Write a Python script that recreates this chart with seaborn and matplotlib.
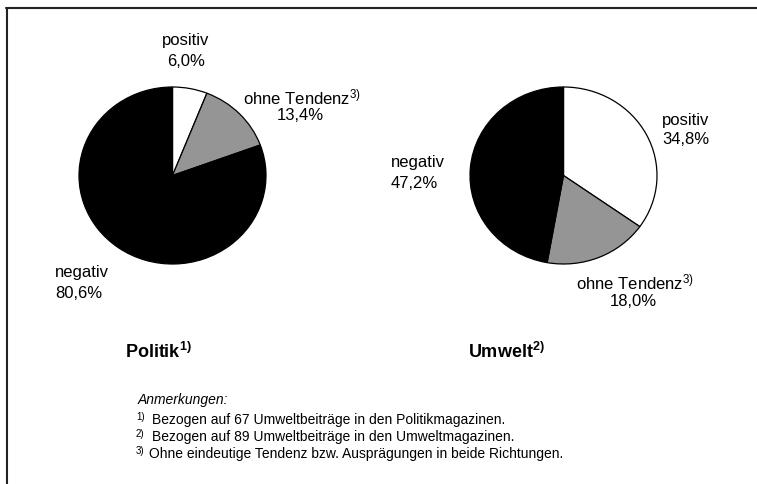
import matplotlib
matplotlib.use("Agg")
import matplotlib.pyplot as plt
from matplotlib.lines import Line2D
import seaborn as sns

sns.set_theme(style="white")
plt.rcParams['font.family'] = ['Liberation Sans', 'DejaVu Sans']
plt.rcParams['text.color'] = 'black'
plt.rcParams['mathtext.fontset'] = 'custom'
plt.rcParams['mathtext.rm'] = 'Liberation Sans'
plt.rcParams['mathtext.it'] = 'Liberation Sans:italic'
plt.rcParams['mathtext.bf'] = 'Liberation Sans:bold'

# ---- data ----
categories = ["positiv", "ohne Tendenz", "negativ"]
politik = [6.0, 13.4, 80.6]
umwelt = [34.8, 18.0, 47.2]
titles = ["Politik", "Umwelt"]
notes = [
    "Bezogen auf 67 Umweltbeiträge in den Politikmagazinen.",
    "Bezogen auf 89 Umweltbeiträge in den Umweltmagazinen.",
    "Ohne eindeutige Tendenz bzw. Ausprägungen in beide Richtungen.",
]
colors = ["#ffffff", "#959595", "#000000"]

W, H = 757, 485
fig = plt.figure(figsize=(W / 100, H / 100), dpi=100)
fig.patch.set_facecolor("white")


def fx(x):
    return x / W


def fy(y):
    return 1 - y / H


def pie_axes(cx, cy, rx, ry):
    ax = fig.add_axes([fx(cx - rx), fy(cy + ry), 2 * rx / W, 2 * ry / H])
    ax.axis("off")
    return ax


def fmt(v):
    return f"{v:.1f}".replace(".", ",") + "%"


for vals, cx in [(politik, 172.5), (umwelt, 563.5)]:
    ax = pie_axes(cx, 176.5, 93.5, 88.5)
    ax.pie(vals, colors=colors, startangle=90, counterclock=False,
           radius=1, frame=False,
           wedgeprops=dict(edgecolor="black", linewidth=0.9))
    ax.set_xlim(-1, 1)
    ax.set_ylim(-1, 1)
    ax.set_aspect("auto")

fs = 12
T = fig.text
# Politik labels
T(fx(186), fy(40), categories[0], ha="center", va="center", fontsize=fs)
T(fx(186), fy(61), fmt(politik[0]), ha="center", va="center", fontsize=fs)
T(fx(302), fy(97), categories[1] + r"$^{3)}$", ha="center", va="center", fontsize=fs)
T(fx(300), fy(115), fmt(politik[1]), ha="center", va="center", fontsize=fs)
T(fx(55), fy(272), categories[2], ha="left", va="center", fontsize=fs)
T(fx(55), fy(294), fmt(politik[2]), ha="left", va="center", fontsize=fs)

# Umwelt labels
T(fx(662), fy(120), categories[0], ha="left", va="center", fontsize=fs)
T(fx(662), fy(140), fmt(umwelt[0]), ha="left", va="center", fontsize=fs)
T(fx(391), fy(163), categories[2], ha="left", va="center", fontsize=fs)
T(fx(391), fy(183), fmt(umwelt[2]), ha="left", va="center", fontsize=fs)
T(fx(635), fy(282), categories[1] + r"$^{3)}$", ha="center", va="center", fontsize=fs)
T(fx(633), fy(302), fmt(umwelt[1]), ha="center", va="center", fontsize=fs)

# titles
T(fx(125), fy(352), titles[0] + r"$^{\mathbf{1)}}$", ha="left", va="center",
  fontsize=13, fontweight="bold")
T(fx(468), fy(352), titles[1] + r"$^{\mathbf{2)}}$", ha="left", va="center",
  fontsize=13, fontweight="bold")

# notes
nfs = 10
T(fx(138), fy(400), "Anmerkungen:", ha="left", va="center", fontsize=nfs, style="italic")
ys = [420, 437, 454]
xs = [152, 152, 149]
for i, (note, y, x) in enumerate(zip(notes, ys, xs)):
    T(fx(136), fy(y - 3), f"{i + 1})", ha="left", va="center", fontsize=7)
    T(fx(x), fy(y), note, ha="left", va="center", fontsize=nfs)

# frame lines (top and left)
fig.add_artist(Line2D([fx(6), 1.0], [fy(8.5), fy(8.5)], color="#222222", lw=1.5,
                      transform=fig.transFigure))
fig.add_artist(Line2D([fx(6.5), fx(6.5)], [fy(8.5), 0.0], color="#222222", lw=1.5,
                      transform=fig.transFigure))

fig.savefig("out.png", dpi=100, facecolor="white")
